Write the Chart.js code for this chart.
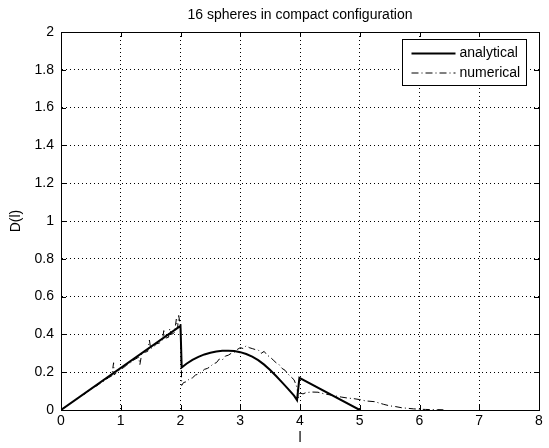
<!DOCTYPE html>
<html>
<head>
<meta charset="utf-8">
<title>16 spheres in compact configuration</title>
<script src="https://cdn.jsdelivr.net/npm/chart.js@4.4.1/dist/chart.umd.min.js"></script>
<style>
  html, body { margin: 0; padding: 0; background: #fff; }
  canvas { display: block; }
</style>
</head>
<body>
<canvas id="chart" width="549" height="448"></canvas>
<script>
// analytical solution
const anaX = [0, 2.0, 2.02, 2.1, 2.2, 2.3, 2.4, 2.5, 2.6, 2.7, 2.8, 2.9, 3.0, 3.1, 3.2, 3.3, 3.4, 3.5, 3.6, 3.7, 3.8, 3.9, 3.95, 3.99, 5.0];
const anaY = [0, 0.445, 0.225, 0.245, 0.265, 0.281, 0.294, 0.303, 0.309, 0.313, 0.314, 0.312, 0.306, 0.296, 0.282, 0.264, 0.240, 0.212, 0.180, 0.146, 0.112, 0.076, 0.052, 0.170, 0.0];

// numerical result (noisy)
const numX = [0, 0.05, 0.1, 0.15, 0.2, 0.25, 0.3, 0.35, 0.4, 0.45, 0.5, 0.55, 0.6, 0.65, 0.7, 0.75, 0.8, 0.85, 0.88, 0.89, 0.95,
  1.0, 1.05, 1.1, 1.15, 1.2, 1.25, 1.3, 1.32, 1.35, 1.4, 1.45, 1.48, 1.5, 1.55, 1.6, 1.65, 1.7, 1.72, 1.75, 1.8, 1.82, 1.85, 1.9, 1.93, 1.95, 1.97, 1.99,
  2.0, 2.01, 2.02, 2.05, 2.1, 2.15, 2.2, 2.25, 2.3, 2.35, 2.4, 2.45, 2.5, 2.55, 2.6, 2.65, 2.7, 2.75, 2.8, 2.85, 2.9, 2.95,
  3.0, 3.05, 3.1, 3.15, 3.2, 3.25, 3.3, 3.35, 3.4, 3.45, 3.5, 3.55, 3.6, 3.65, 3.7, 3.75, 3.8, 3.85, 3.9, 3.95, 3.97,
  4.0, 4.05, 4.1, 4.2, 4.3, 4.4, 4.5, 4.6, 4.7, 4.8, 4.9, 5.0, 5.1, 5.25, 5.4, 5.5, 5.6, 5.7, 5.8, 5.9, 6.0, 6.1, 6.2, 6.3, 6.4];
const numY = [0, 0.012, 0.020, 0.035, 0.042, 0.058, 0.062, 0.080, 0.085, 0.100, 0.105, 0.122, 0.128, 0.140, 0.150, 0.160, 0.172, 0.180, 0.250, 0.185, 0.205,
  0.215, 0.225, 0.238, 0.245, 0.262, 0.270, 0.280, 0.240, 0.295, 0.305, 0.310, 0.370, 0.325, 0.335, 0.350, 0.355, 0.370, 0.420, 0.380, 0.385, 0.430, 0.400, 0.410, 0.480, 0.430, 0.500, 0.460,
  0.440, 0.300, 0.130, 0.145, 0.150, 0.165, 0.170, 0.185, 0.190, 0.200, 0.215, 0.220, 0.230, 0.245, 0.250, 0.270, 0.265, 0.285, 0.290, 0.300, 0.305, 0.320,
  0.330, 0.325, 0.340, 0.330, 0.325, 0.320, 0.318, 0.300, 0.310, 0.290, 0.280, 0.265, 0.250, 0.240, 0.220, 0.210, 0.190, 0.175, 0.160, 0.120, 0.060,
  0.090, 0.085, 0.092, 0.095, 0.094, 0.086, 0.080, 0.074, 0.068, 0.063, 0.060, 0.055, 0.048, 0.044, 0.030, 0.022, 0.018, 0.012, 0.009, 0.006, 0.004, 0.003, 0.002, 0.002, 0.001];

const xTicks = [0, 1, 2, 3, 4, 5, 6, 7, 8];
const xTickLabels = ['0', '1', '2', '3', '4', '5', '6', '7', '8'];
const yTicks = [0, 0.2, 0.4, 0.6, 0.8, 1, 1.2, 1.4, 1.6, 1.8, 2];
const yTickLabels = ['0', '0.2', '0.4', '0.6', '0.8', '1', '1.2', '1.4', '1.6', '1.8', '2'];

const FONT = "'Liberation Sans', Arial, sans-serif";

function toPoints(xs, ys) {
  return xs.map((x, i) => ({ x: x, y: ys[i] }));
}

// box, inward ticks and legend drawn like matlab
const matlabAxes = {
  id: 'matlabAxes',
  afterDraw(chart) {
    const { ctx, chartArea: a, scales } = chart;
    ctx.save();
    ctx.strokeStyle = '#000';
    ctx.lineWidth = 1;
    ctx.setLineDash([]);
    ctx.strokeRect(Math.round(a.left) + 0.5, Math.round(a.top) + 0.5, Math.round(a.right - a.left), Math.round(a.bottom - a.top));

    const len = 5;
    ctx.beginPath();
    xTicks.forEach(v => {
      const px = Math.round(scales.x.getPixelForValue(v)) + 0.5;
      ctx.moveTo(px, a.bottom); ctx.lineTo(px, a.bottom - len);
      ctx.moveTo(px, a.top); ctx.lineTo(px, a.top + len);
    });
    yTicks.forEach(v => {
      const py = Math.round(scales.y.getPixelForValue(v)) + 0.5;
      ctx.moveTo(a.left, py); ctx.lineTo(a.left + len, py);
      ctx.moveTo(a.right, py); ctx.lineTo(a.right - len, py);
    });
    ctx.stroke();

    // legend box
    const bx = 402.5, by = 39.5, bw = 124, bh = 46;
    ctx.fillStyle = '#fff';
    ctx.fillRect(bx, by, bw, bh);
    ctx.strokeRect(bx, by, bw, bh);
    ctx.font = '14px ' + FONT;
    ctx.textBaseline = 'middle';
    ctx.textAlign = 'left';
    chart.data.datasets.forEach((ds, i) => {
      const y = by + 14 + i * 19.5;
      ctx.beginPath();
      ctx.lineWidth = ds.borderWidth;
      ctx.setLineDash(ds.borderDash || []);
      ctx.moveTo(bx + 9, y);
      ctx.lineTo(bx + 53, y);
      ctx.stroke();
      ctx.setLineDash([]);
      ctx.fillStyle = '#000';
      ctx.fillText(ds.label, bx + 57, y);
    });
    ctx.restore();
  }
};

new Chart(document.getElementById('chart').getContext('2d'), {
  type: 'scatter',
  data: {
    datasets: [
      {
        label: 'analytical',
        data: toPoints(anaX, anaY),
        showLine: true,
        borderColor: '#000',
        borderWidth: 2,
        pointRadius: 0,
        tension: 0
      },
      {
        label: 'numerical',
        data: toPoints(numX, numY),
        showLine: true,
        borderColor: '#000',
        borderWidth: 1,
        borderDash: [7, 3, 1, 3],
        pointRadius: 0,
        tension: 0
      }
    ]
  },
  options: {
    responsive: false,
    animation: false,
    layout: { padding: { left: 0, right: 10, top: 0, bottom: 0 } },
    plugins: {
      legend: { display: false },
      tooltip: { enabled: false },
      title: {
        display: true,
        fullSize: false,
        text: '16 spheres in compact configuration',
        color: '#000',
        font: { family: FONT, size: 14, weight: 'normal', lineHeight: 1.2 },
        padding: { top: 7, bottom: 8.2 }
      }
    },
    scales: {
      x: {
        type: 'linear',
        min: 0,
        max: 8,
        afterBuildTicks: s => { s.ticks = xTicks.map(v => ({ value: v })); },
        afterFit: s => { s.height = 38; },
        ticks: {
          color: '#000',
          padding: 3,
          maxRotation: 0,
          font: { family: FONT, size: 14 },
          callback: (v, i) => xTickLabels[i]
        },
        grid: { color: '#000', lineWidth: 1, drawTicks: false },
        border: { display: true, color: '#000', width: 1, dash: [1, 3] },
        title: {
          display: true,
          text: 'l',
          color: '#000',
          font: { family: FONT, size: 14, lineHeight: 1.2 },
          padding: { top: 0, bottom: 1 }
        }
      },
      y: {
        type: 'linear',
        min: 0,
        max: 2,
        afterBuildTicks: s => { s.ticks = yTicks.map(v => ({ value: v })); },
        afterFit: s => { s.width = 61; },
        ticks: {
          color: '#000',
          padding: 7,
          font: { family: FONT, size: 14 },
          callback: (v, i) => yTickLabels[i]
        },
        grid: { color: '#000', lineWidth: 1, drawTicks: false },
        border: { display: true, color: '#000', width: 1, dash: [1, 3] },
        title: {
          display: true,
          text: 'D(l)',
          color: '#000',
          font: { family: FONT, size: 14, lineHeight: 1.2 },
          padding: { top: 8, bottom: 0 }
        }
      }
    }
  },
  plugins: [matlabAxes]
});
</script>
</body>
</html>
